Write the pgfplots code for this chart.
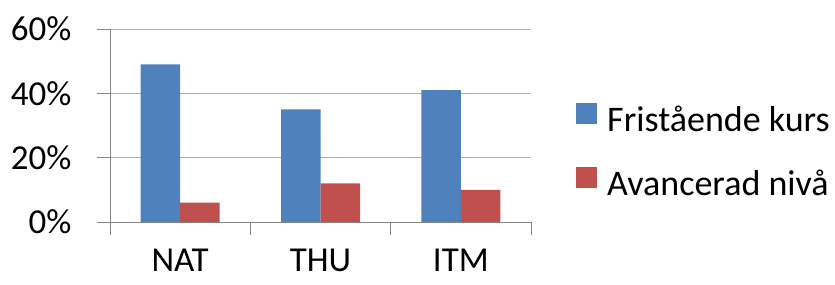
\documentclass[border=0pt]{standalone}
\usepackage{fontspec}
\setmainfont{Carlito}
\usepackage{pgfplots}
\pgfplotsset{compat=1.18}
\definecolor{cblue}{RGB}{79,129,189}
\definecolor{cred}{RGB}{192,80,77}
\definecolor{gridc}{RGB}{170,170,170}
\definecolor{axc}{RGB}{134,134,134}
\begin{document}
\begin{tikzpicture}
\useasboundingbox (0,0) rectangle (835pt,284pt);
\begin{axis}[
 at={(110pt,62pt)}, anchor=south west,
 scale only axis, width=421pt, height=193pt,
 ybar=0pt, bar width=39.5pt,
 xmin=-0.5, xmax=2.5, ymin=0, ymax=60,
 xtick={0,1,2}, xticklabels={NAT,THU,ITM},
 minor xtick={-0.5,0.5,1.5,2.5},
 ytick={0,20,40,60}, yticklabels={0\%,20\%,40\%,60\%},
 axis lines*=left, axis line style={axc, line width=1pt},
 ymajorgrids, grid style={gridc, line width=1pt},
 tick align=outside, major tick length=13pt, minor tick length=13pt,
 tick style={axc, line width=1pt},
 every major x tick/.append style={draw=none},
 yticklabel style={font=\fontsize{35}{42}\selectfont, xshift=-22pt},
 xticklabel style={font=\fontsize{35}{42}\selectfont, inner sep=0pt, yshift=-14pt},
 /pgf/number format/assume math mode=true,
 legend style={at={(1.107,0.62)}, anchor=north west, draw=none, fill=none, inner sep=0pt,
   font=\fontsize{36}{44}\selectfont,
   nodes={inner sep=0pt, text height=26pt, text depth=8pt},
   column sep=10pt, row sep=27pt},
 legend cell align=left,
 legend image code/.code={\fill[#1] (0pt,-1pt) rectangle (21pt,20pt);},
]
\addplot[fill=cblue, draw=none] coordinates {(0,49) (1,35) (2,41)};
\addlegendentry{Fristående kurs}
\addplot[fill=cred, draw=none] coordinates {(0,6) (1,12) (2,10)};
\addlegendentry{Avancerad nivå}
\end{axis}
\end{tikzpicture}
\end{document}
